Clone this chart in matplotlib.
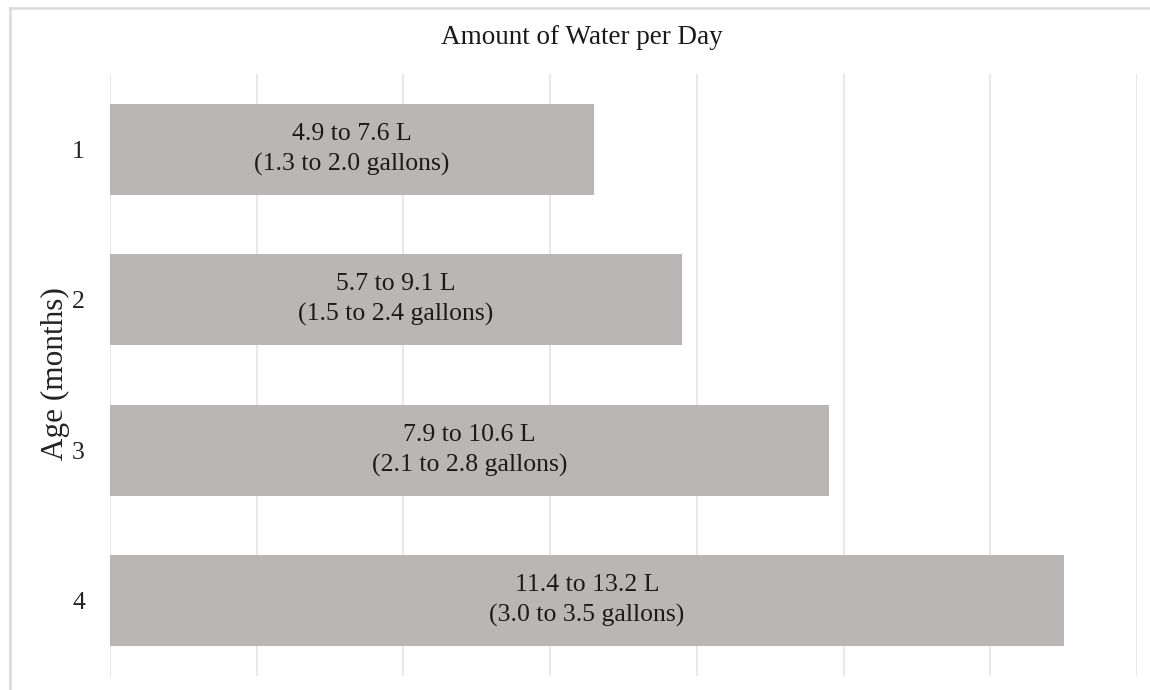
import matplotlib
matplotlib.use("Agg")
import matplotlib.pyplot as plt
from matplotlib.lines import Line2D

ages = ["1", "2", "3", "4"]
values = [6.6, 7.8, 9.8, 13.0]
labels_l = ["4.9 to 7.6 L", "5.7 to 9.1 L", "7.9 to 10.6 L", "11.4 to 13.2 L"]
labels_gal = ["(1.3 to 2.0 gallons)", "(1.5 to 2.4 gallons)",
              "(2.1 to 2.8 gallons)", "(3.0 to 3.5 gallons)"]
title = "Amount of Water per Day"
ylabel = "Age (months)"

plt.rcParams['font.family'] = ['Liberation Serif', 'DejaVu Serif']

W, H = 1150, 690
fig = plt.figure(figsize=(W / 100, H / 100), dpi=100)
ax = fig.add_axes([110 / W, 1 - 676 / H, (1137 - 110) / W, (676 - 74) / H])

ypos = list(range(len(ages)))
ax.barh(ypos, values, height=0.605, color="#BAB6B5", zorder=2)
for y, v, a, b in zip(ypos, values, labels_l, labels_gal):
    ax.text(v / 2, y, a + "\n" + b, ha="center", va="center",
            fontsize=18.5, color="#1a1a1a", linespacing=1.45, zorder=3)

ax.set_xlim(0, 14)
ax.set_ylim(3.5, -0.5)
ax.set_xticks(range(0, 15, 2))
ax.set_xticklabels([])
ax.set_yticks(ypos)
ax.set_yticklabels(ages, fontsize=18.5, color="#222222")
ax.tick_params(axis="both", length=0)
ax.tick_params(axis="y", pad=18)
ax.grid(axis="x", color="#E8E8E8", linewidth=1.5, zorder=0)
for s in ax.spines.values():
    s.set_visible(False)
ax.set_ylabel(ylabel, fontsize=22.5, color="#222222")
ax.yaxis.set_label_coords(70 / W, 1 - 374 / H, transform=fig.transFigure)

fig.text(582 / W, 1 - 38 / H, title, ha="center", va="center",
         fontsize=19.5, color="#1a1a1a")

# outer chart border (top and left visible)
fig.add_artist(Line2D([10 / W, 1], [1 - 8 / H, 1 - 8 / H], transform=fig.transFigure,
                      color="#D9D9D9", linewidth=1.8))
fig.add_artist(Line2D([10 / W, 10 / W], [0, 1 - 8 / H], transform=fig.transFigure,
                      color="#D9D9D9", linewidth=1.8))

fig.savefig("out.png", dpi=100)
